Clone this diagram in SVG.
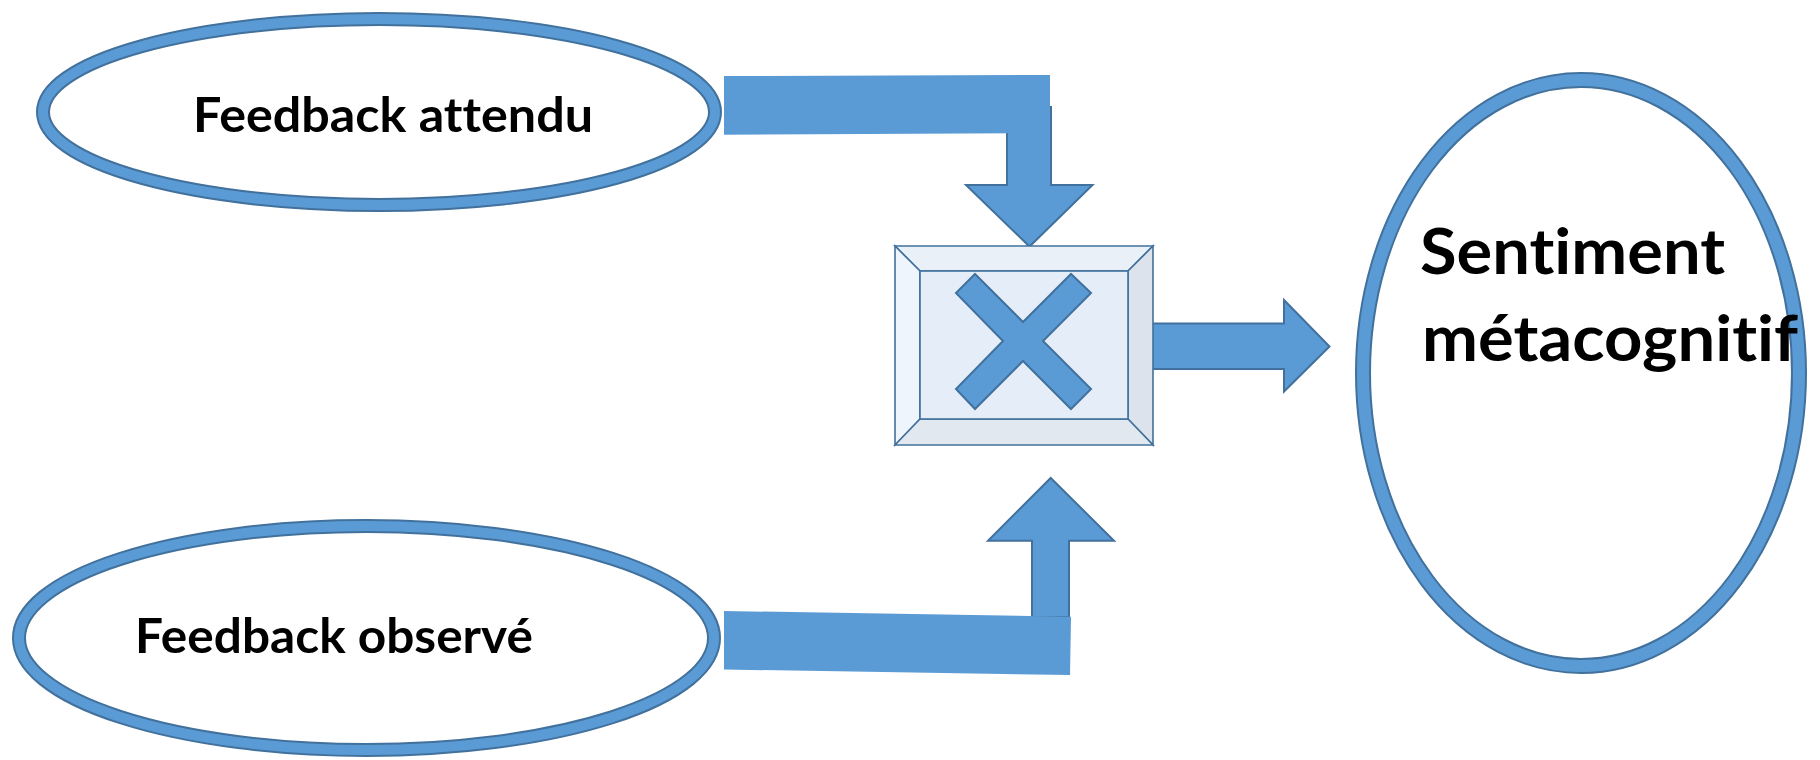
<svg xmlns="http://www.w3.org/2000/svg" width="1820" height="760" viewBox="0 0 1820 760">
  <style>
    .ring-edge { fill: #ffffff; stroke: #41719c; }
    .ring { fill: none; stroke: #5b9bd5; }
    .label { font-family: Lato, "Open Sans", "Liberation Sans", sans-serif; font-weight: 700; fill: #000000;
             font-variant-ligatures: none; font-feature-settings: "liga" 0, "clig" 0, "dlig" 0; }
    .bar { fill: #5b9bd5; stroke: none; }
    .arrow { fill: #5b9bd5; stroke: #41719c; stroke-width: 2; stroke-linejoin: miter; }
    .bevel { stroke: #41719c; stroke-width: 1.6; stroke-linejoin: miter; }
  </style>
  <rect width="1820" height="760" fill="#ffffff"/>

  <!-- Expected feedback -->
  <g id="node-expected">
    <ellipse class="ring-edge" cx="379" cy="112" rx="336" ry="93" stroke-width="14"/>
    <ellipse class="ring" cx="379" cy="112" rx="336" ry="93" stroke-width="10"/>
    <text class="label" x="193" y="132" font-size="47" textLength="400" lengthAdjust="spacingAndGlyphs">Feedback attendu</text>
  </g>

  <!-- Observed feedback -->
  <g id="node-observed">
    <ellipse class="ring-edge" cx="366.5" cy="638" rx="347.5" ry="112" stroke-width="14"/>
    <ellipse class="ring" cx="366.5" cy="638" rx="347.5" ry="112" stroke-width="10"/>
    <text class="label" x="135" y="653" font-size="47" textLength="398" lengthAdjust="spacingAndGlyphs">Feedback observé</text>
  </g>

  <!-- Metacognitive feeling -->
  <g id="node-feeling">
    <ellipse class="ring-edge" cx="1581" cy="373" rx="218" ry="293" stroke-width="16"/>
    <ellipse class="ring" cx="1581" cy="373" rx="218" ry="293" stroke-width="12"/>
    <text class="label" x="1420" y="274" font-size="64" textLength="305" lengthAdjust="spacingAndGlyphs">Sentiment</text>
    <text class="label" x="1422" y="361" font-size="64" textLength="376" lengthAdjust="spacingAndGlyphs">métacognitif</text>
  </g>

  <!-- Connectors: block arrows into and out of the comparator -->
  <g id="connectors">
    <!-- expected -> comparator -->
    <polygon class="arrow" points="1007,107 1051,107 1051,185 1092.5,185 1029.5,246.5 966,185 1007,185"/>
    <polygon class="bar" points="724,76 1050,75 1050,133 724,134.7"/>
    <!-- observed -> comparator -->
    <polygon class="arrow" points="1032,617 1032,540.7 988,540.7 1050.7,478 1114,540.7 1069,540.7 1069,617"/>
    <polygon class="bar" points="724,611 1071,616.7 1070,675 724,669.5"/>
    <!-- comparator -> feeling -->
    <polygon class="arrow" points="1152,323.5 1284,323.5 1284,300 1329.5,346.5 1284,391.5 1284,369 1152,369"/>
  </g>

  <!-- Comparator: bevelled box with a multiplication sign -->
  <g id="node-compare">
    <polygon class="bevel" fill="#e9f0f8" points="895,246 1153,246 1128,271 920,271"/>
    <polygon class="bevel" fill="#eff5fc" points="895,246 920,271 920,419 895,445"/>
    <polygon class="bevel" fill="#dce3ec" points="1153,246 1153,445 1128,419 1128,271"/>
    <polygon class="bevel" fill="#e1e8f0" points="895,445 920,419 1128,419 1153,445"/>
    <rect class="bevel" fill="#e4edf8" x="920" y="271" width="208" height="148"/>
    <polygon class="arrow" points="975,274 1023,322 1071,274 1091,293 1043,341 1091,389 1071,409 1023,361 975,409 956,389 1003,341 956,293"/>
  </g>
</svg>
